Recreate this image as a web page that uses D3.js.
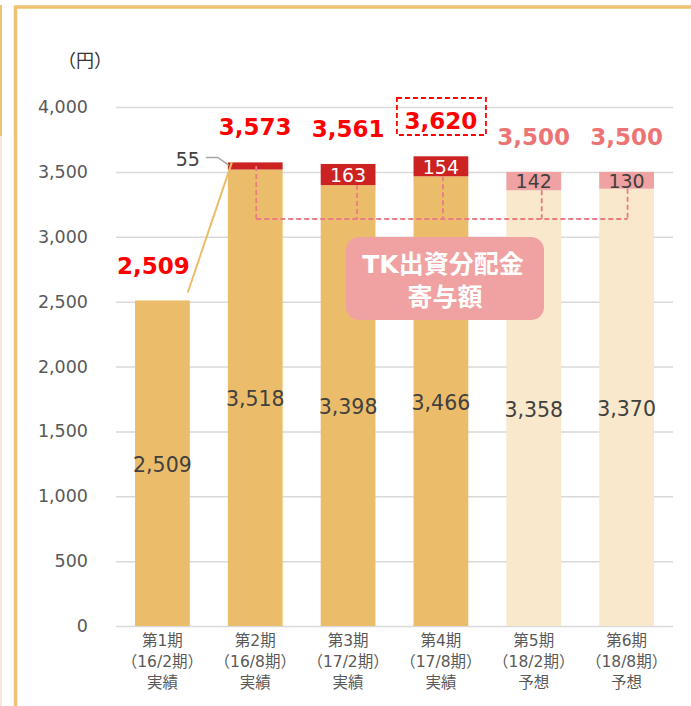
<!DOCTYPE html>
<html>
<head>
<meta charset="utf-8">
<script src="https://cdn.jsdelivr.net/npm/d3@7"></script>
<style>
  body { margin: 0; background: #fff; }
  text { font-family: "DejaVu Sans", "Noto Sans CJK JP", sans-serif; }
</style>
</head>
<body>
<svg id="chart" width="691" height="706"></svg>
<script>
// 期ごとのデータ
let periods = ['第1期', '第2期', '第3期', '第4期', '第5期', '第6期']
let terms = ['（16/2期）', '（16/8期）', '（17/2期）', '（17/8期）', '（18/2期）', '（18/8期）']
let kinds = ['実績', '実績', '実績', '実績', '予想', '予想']
let baseValues = [2509, 3518, 3398, 3466, 3358, 3370]
let tkValues = [0, 55, 163, 154, 142, 130]
let yTicks = [0, 500, 1000, 1500, 2000, 2500, 3000, 3500, 4000]

let rows = periods.map((p, i) => ({
  period: p, term: terms[i], kind: kinds[i],
  base: baseValues[i], tk: tkValues[i], total: baseValues[i] + tkValues[i],
  forecast: kinds[i] === '予想'
}))

let svg = d3.select('#chart')

// 外枠
svg.append('rect').attr('x', 15.5).attr('y', 7).attr('width', 690).attr('height', 720)
  .attr('fill', 'none').attr('stroke', '#EFC273').attr('stroke-width', 3.5)
svg.append('line').attr('x1', 1).attr('x2', 1).attr('y1', 5).attr('y2', 136)
  .attr('stroke', '#EFC273').attr('stroke-width', 2)
svg.append('line').attr('x1', 1).attr('x2', 1).attr('y1', 136).attr('y2', 706)
  .attr('stroke', '#F8E6E2').attr('stroke-width', 2)

let x = d3.scaleBand().domain(periods).range([116, 673]).paddingInner(0.41).paddingOuter(0.205)
let y = d3.scaleLinear().domain([0, 4000]).range([626, 107])

// grid + y axis
let yAxis = svg.append('g').attr('transform', 'translate(116,0)')
  .call(d3.axisLeft(y).tickValues(yTicks).tickFormat(d3.format(',')).tickSize(-557).tickPadding(28))
yAxis.select('.domain').remove()
yAxis.selectAll('line').attr('stroke', '#D9D9D9').attr('stroke-width', 1.5)
yAxis.selectAll('text').attr('fill', '#595959').attr('font-size', 17.5)
  .attr('font-family', '"DejaVu Sans", sans-serif')

svg.append('text').attr('x', 58).attr('y', 67).attr('fill', '#333')
  .attr('font-size', 18).attr('font-family', '"Noto Sans CJK JP", sans-serif').text('（円）')

// bars
let bars = svg.selectAll('.bar').data(rows).enter()

bars.append('rect')
  .attr('x', d => x(d.period))
  .attr('y', d => y(d.base))
  .attr('width', x.bandwidth())
  .attr('height', d => y(0) - y(d.base))
  .attr('fill', d => d.forecast ? '#F9E8CC' : '#EBBD6A')

bars.filter(d => d.tk > 0).append('rect')
  .attr('x', d => x(d.period))
  .attr('y', d => y(d.total))
  .attr('width', x.bandwidth())
  .attr('height', d => y(d.base) - y(d.total))
  .attr('fill', d => d.forecast ? '#F0A2A2' : '#CC2222')

// base labels
bars.append('text')
  .attr('x', d => x(d.period) + x.bandwidth() / 2)
  .attr('y', d => (y(0) + y(d.base)) / 2 + 1.5)
  .attr('dy', '0.35em')
  .attr('text-anchor', 'middle')
  .attr('font-size', 20.5)
  .attr('fill', '#404040')
  .text(d => d3.format(',')(d.base))

// tk labels inside top segment (except small one)
bars.filter(d => d.tk > 100).append('text')
  .attr('x', d => x(d.period) + x.bandwidth() / 2)
  .attr('y', d => (y(d.base) + y(d.total)) / 2)
  .attr('dy', '0.38em')
  .attr('text-anchor', 'middle')
  .attr('font-size', 19)
  .attr('fill', d => d.forecast ? '#404040' : '#fff')
  .text(d => d.tk)

// 55 label with leader
let small = rows[1]
let sx = x(small.period)
svg.append('text').attr('x', sx - 28).attr('y', y(small.total) - 3).attr('dy', '0.35em')
  .attr('text-anchor', 'end').attr('font-size', 19).attr('fill', '#404040').text(small.tk)
svg.append('polyline')
  .attr('points', [[sx - 22, y(small.total) - 5], [sx - 10, y(small.total) - 5], [sx + 1, y(small.total) + 3]].join(' '))
  .attr('fill', 'none').attr('stroke', '#A6A6A6').attr('stroke-width', 1.5)

// connector from bar1 to bar2
let b1 = rows[0]
svg.append('line')
  .attr('x1', x(b1.period) + x.bandwidth() - 2).attr('y1', y(b1.total) - 8)
  .attr('x2', sx + 4).attr('y2', y(small.total))
  .attr('stroke', '#EBBD6A').attr('stroke-width', 2)

// dashed pink bracket
let dashColor = '#EA7C86'
let cx = (d, i) => x(d.period) + x.bandwidth() / 2 + [0, 1, 9, 2, 8, 1][i]
let bracketY = 219
rows.forEach((d, i) => {
  if (i === 0) return
  let top = d.tk > 100 ? y(d.base) : (y(d.base) + y(d.total)) / 2
  svg.append('line').attr('x1', cx(d, i)).attr('x2', cx(d, i))
    .attr('y1', top).attr('y2', bracketY)
    .attr('stroke', dashColor).attr('stroke-width', 1.8).attr('stroke-dasharray', '5,3')
})
svg.append('line').attr('x1', cx(rows[1], 1)).attr('x2', cx(rows[5], 5))
  .attr('y1', bracketY).attr('y2', bracketY)
  .attr('stroke', dashColor).attr('stroke-width', 1.8).attr('stroke-dasharray', '5,3')

// TK box
svg.append('rect').attr('x', 346).attr('y', 237).attr('width', 198).attr('height', 83)
  .attr('rx', 13).attr('fill', '#F0A2A2')
svg.append('text').attr('x', 443).attr('y', 273).attr('text-anchor', 'middle')
  .attr('fill', '#fff').attr('font-size', 25).attr('font-weight', 'bold')
  .attr('font-family', '"Noto Sans CJK JP", sans-serif').text('TK出資分配金')
svg.append('text').attr('x', 445).attr('y', 306).attr('text-anchor', 'middle')
  .attr('fill', '#fff').attr('font-size', 25).attr('font-weight', 'bold')
  .attr('font-family', '"Noto Sans CJK JP", sans-serif').text('寄与額')

// totals
bars.append('text')
  .attr('x', d => x(d.period) + x.bandwidth() / 2 + (d.period === '第1期' ? -9 : 0))
  .attr('y', d => y(d.total) - 35)
  .attr('dy', '0.35em')
  .attr('text-anchor', 'middle')
  .attr('font-size', 23)
  .attr('font-weight', 'bold')
  .attr('fill', d => d.forecast ? '#EC7474' : '#FF0000')
  .text(d => d3.format(',')(d.total))

// dashed box around max actual
let maxRow = rows[3]
let mcx = x(maxRow.period) + x.bandwidth() / 2
svg.append('rect').attr('x', mcx - 44).attr('y', 98).attr('width', 89).attr('height', 37)
  .attr('fill', 'none').attr('stroke', '#FF0000').attr('stroke-width', 1.8).attr('stroke-dasharray', '5,3')

// x labels
let xl = svg.selectAll('.xl').data(rows).enter().append('text')
  .attr('text-anchor', 'middle').attr('fill', '#595959').attr('font-size', 15.5)
  .attr('font-family', '"Noto Sans CJK JP", sans-serif')
xl.each(function (d) {
  let t = d3.select(this)
  let cxx = x(d.period) + x.bandwidth() / 2
  ;[d.period, d.term, d.kind].forEach((s, k) => {
    t.append('tspan').attr('x', cxx).attr('y', 646 + k * 21).text(s)
  })
})
</script>
</body>
</html>
